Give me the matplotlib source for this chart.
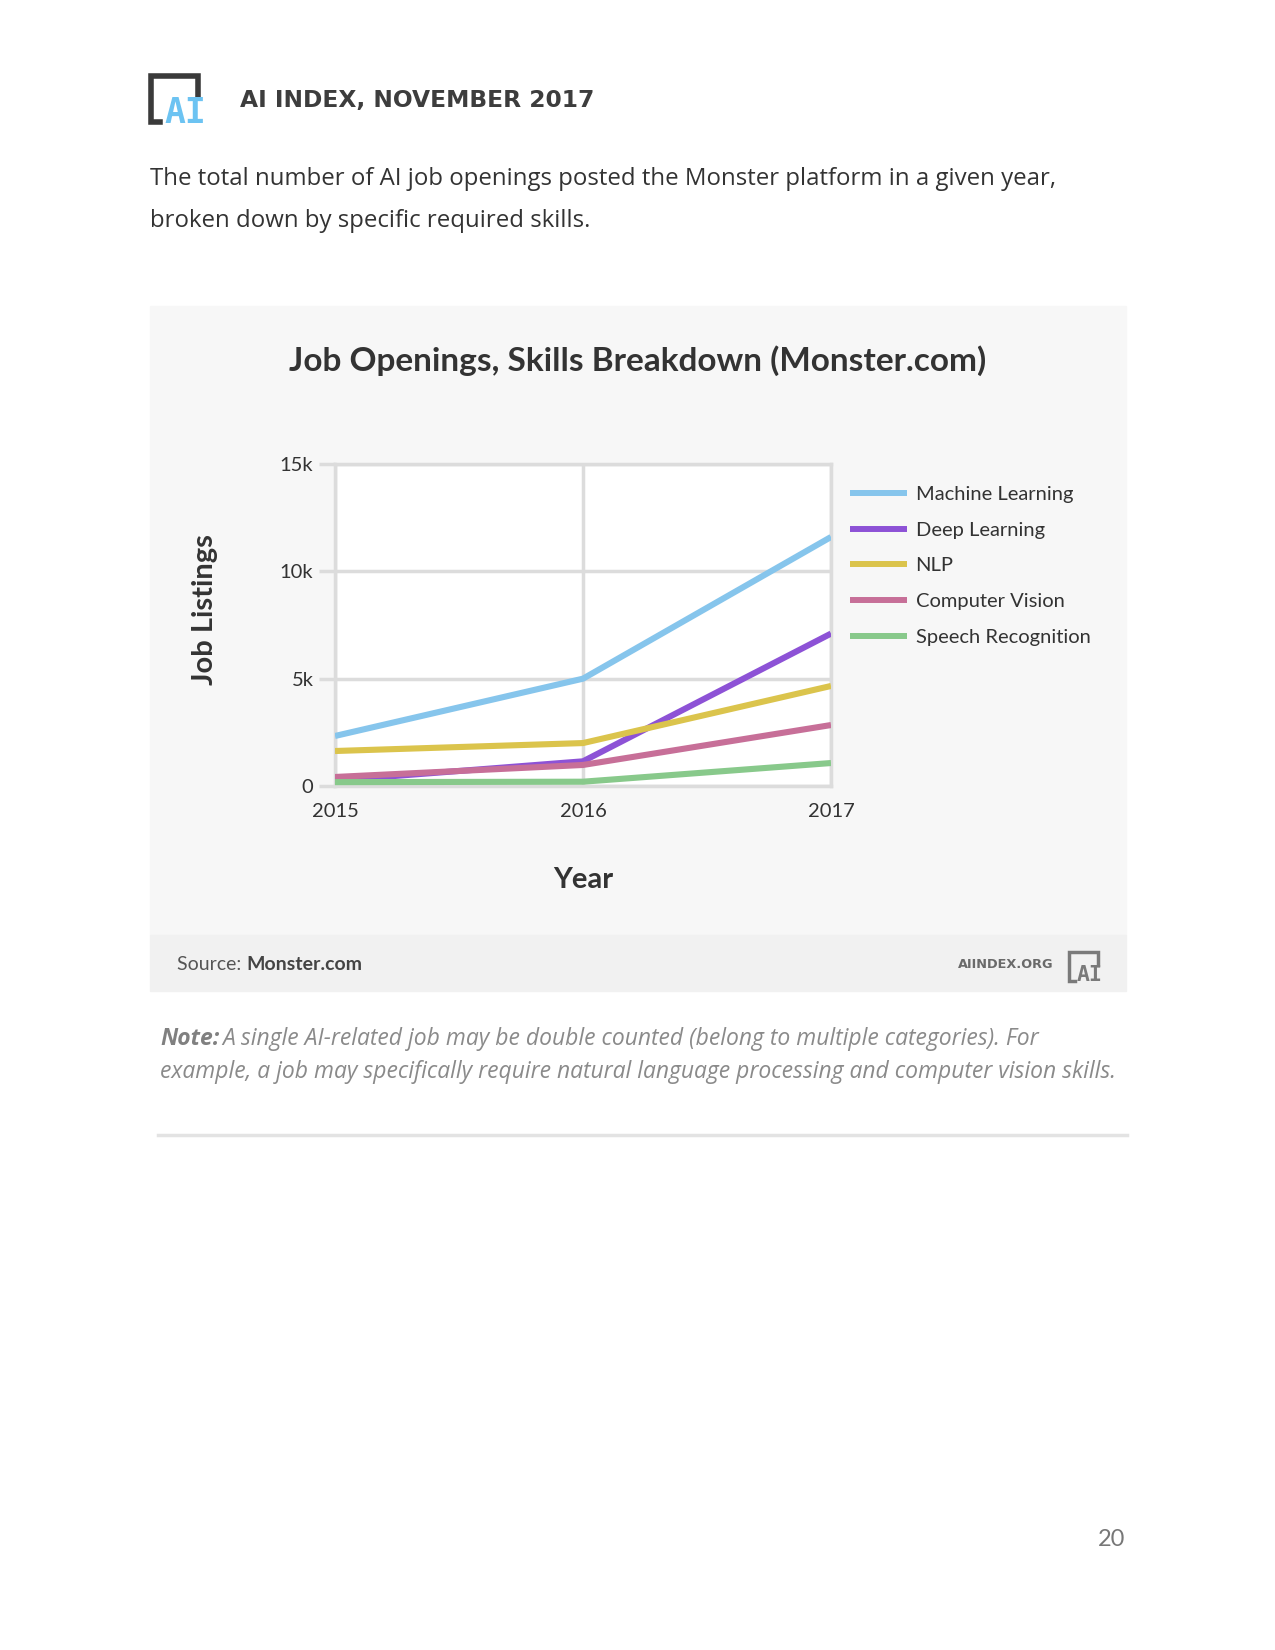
import matplotlib
matplotlib.use("Agg")
import matplotlib.pyplot as plt
from matplotlib.patches import Rectangle
from matplotlib.lines import Line2D

# data (job listings, thousands)
years = [2015, 2016, 2017]
skills = ["Machine Learning", "Deep Learning", "NLP", "Computer Vision", "Speech Recognition"]
machine_learning = [2.33, 5.0, 11.6]
deep_learning = [0.25, 1.15, 7.1]
nlp = [1.63, 2.0, 4.66]
computer_vision = [0.42, 0.98, 2.84]
speech_recognition = [0.18, 0.2, 1.07]
series = [machine_learning, deep_learning, nlp, computer_vision, speech_recognition]
colors = ["#86c5ec", "#8d52d6", "#dbc44c", "#c76f98", "#88c98b"]
yticks = [0, 5, 10, 15]
ytick_labels = ["0", "5k", "10k", "15k"]

W, H = 1275, 1650
plt.rcParams["font.family"] = ["Lato", "DejaVu Sans"]
fig = plt.figure(figsize=(W / 100, H / 100), dpi=100)
fig.patch.set_facecolor("white")


def fx(x):
    return x / W


def fy(y):
    return 1 - y / H


def rect(x0, y0, x1, y1, color):
    fig.patches.append(Rectangle((fx(x0), fy(y1)), fx(x1) - fx(x0), fy(y0) - fy(y1),
                                 transform=fig.transFigure, color=color, zorder=-5))


def logo(x0, y0, s, frame, ai):
    # bracket frame + "AI"
    pts = [(x0 + 9 * s, y0 + 46 * s), (x0, y0 + 46 * s), (x0, y0), (x0 + 47 * s, y0), (x0 + 47 * s, y0 + 21 * s)]
    fig.lines.append(Line2D([fx(p[0]) for p in pts], [fy(p[1]) for p in pts],
                            transform=fig.transFigure, color=frame, lw=4 * s, solid_joinstyle="miter"))
    fig.text(fx(x0 + 34 * s), fy(y0 + 47 * s), "AI", color=ai, fontsize=25 * s,
             family="DejaVu Sans Mono", weight="bold", ha="center", va="baseline")


# header
logo(151, 76, 1.0, "#3a3a3a", "#6cc3f2")
fig.text(fx(240), fy(100), "AI INDEX, NOVEMBER 2017", fontsize=16.8, weight="bold",
         family="DejaVu Sans", color="#3d3d3d", va="center", ha="left")
fig.text(fx(150), fy(179), "The total number of AI job openings posted the Monster platform in a given year,",
         fontsize=17.3, family="Open Sans", color="#333333", va="center")
fig.text(fx(150), fy(221), "broken down by specific required skills.",
         fontsize=17.3, family="Open Sans", color="#333333", va="center")

# chart panel
rect(150, 306, 1126, 935, "#f7f7f7")
rect(150, 935, 1126, 991, "#f1f1f1")

fig.text(fx(638), fy(361), "Job Openings, Skills Breakdown (Monster.com)", fontsize=24,
         weight="bold", color="#333333", ha="center", va="center")

ax = fig.add_axes([fx(335), fy(786), fx(831) - fx(335), fy(464) - fy(786)])
ax.set_zorder(5)
ax.set_facecolor("white")
for i, vals in enumerate(series):
    ax.plot(years, vals, color=colors[i], lw=4.4, label=skills[i], solid_capstyle="butt", zorder=3)

ax.set_xlim(2015, 2017)
ax.set_ylim(0, 15)
ax.set_xticks(years)
ax.set_xticklabels([str(y) for y in years], fontsize=14.5, color="#333333")
ax.set_yticks(yticks)
ax.set_yticklabels(ytick_labels, fontsize=14.5, color="#333333")
ax.tick_params(axis="x", length=0, pad=12)
ax.tick_params(axis="y", length=11.5, width=2.5, color="#dcdcdc", pad=4)
ax.grid(True, color="#dcdcdc", lw=2.5, zorder=1)
for sp in ax.spines.values():
    sp.set_color("#dcdcdc")
    sp.set_linewidth(2.5)

ax.set_xlabel("Year", fontsize=21, weight="bold", color="#333333", labelpad=34)
fig.text(fx(205), fy(610), "Job Listings", fontsize=21, weight="bold", color="#333333",
         rotation=90, ha="center", va="center")

leg = ax.legend(loc="upper left", bbox_to_anchor=(fx(832), fy(468)), bbox_transform=fig.transFigure,
                frameon=False, fontsize=14.5, handlelength=2.8, handletextpad=0.45,
                labelspacing=0.92, labelcolor="#333333")
for h in leg.get_lines():
    h.set_linewidth(4.3)

# footer
fig.text(fx(177), fy(965), "Source: ", fontsize=14, color="#555555", va="center")
fig.text(fx(246), fy(965), "Monster.com", fontsize=14, color="#444444", weight="bold", va="center")
fig.text(fx(1054), fy(965), "AIINDEX.ORG", fontsize=9.3, color="#6a6a6a", weight="bold",
         family="DejaVu Sans", ha="right", va="center")
logo(1069, 952, 0.62, "#7a7a7a", "#7a7a7a")

# note
fig.text(fx(160), fy(1039), "Note:", fontsize=16.5, style="italic", weight="bold", family="Open Sans",
         color="#808080", va="center")
fig.text(fx(222), fy(1039), "A single AI-related job may be double counted (belong to multiple categories). For",
         fontsize=16.5, style="italic", family="Open Sans", color="#8a8a8a", va="center")
fig.text(fx(160), fy(1072), "example, a job may specifically require natural language processing and computer vision skills.",
         fontsize=16.5, style="italic", family="Open Sans", color="#8a8a8a", va="center")
fig.lines.append(Line2D([fx(158), fx(1127)], [fy(1135), fy(1135)], transform=fig.transFigure,
                        color="#e3e3e3", lw=2.5))

fig.text(fx(1125), fy(1539), "20", fontsize=17, color="#777777", ha="right", va="center")

fig.savefig("out.png", dpi=100)
